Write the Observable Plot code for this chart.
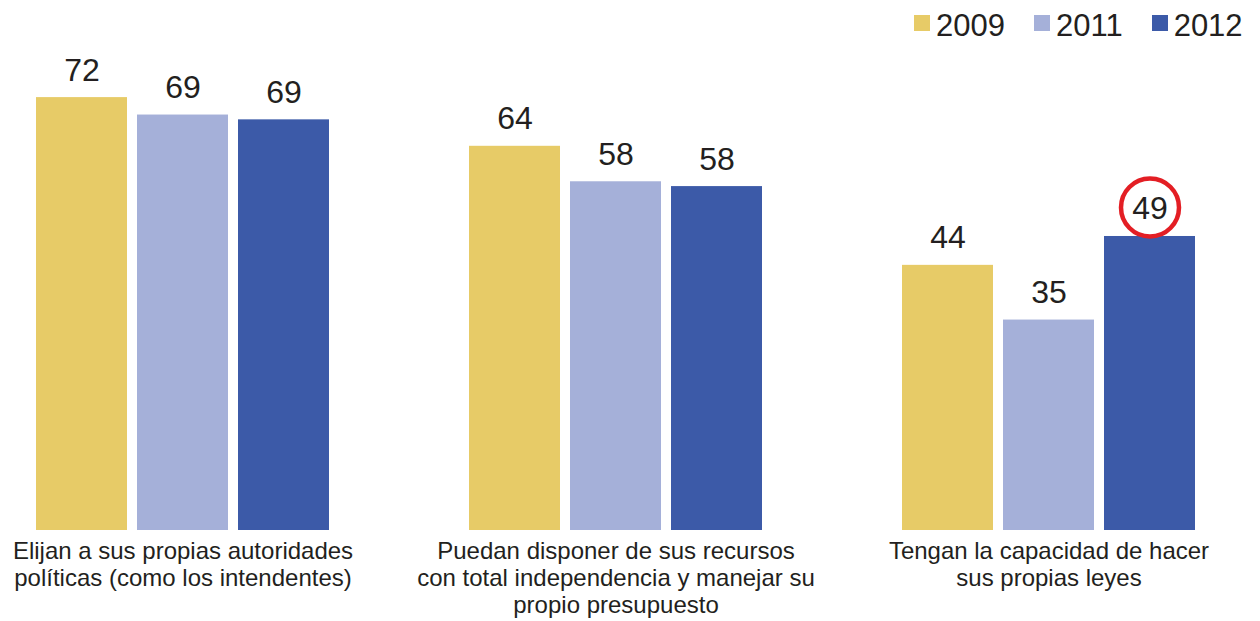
<!DOCTYPE html>
<html>
<head>
<meta charset="utf-8">
<script src="https://cdn.jsdelivr.net/npm/d3@7"></script>
<script src="https://cdn.jsdelivr.net/npm/@observablehq/plot@0.6"></script>
<style>
  body { margin: 0; background: #fff; font-family: "Liberation Sans", Arial, sans-serif; color: #231f20; }
  #wrap { position: relative; width: 1260px; height: 621px; overflow: hidden; }
  #legend { position: absolute; top: 10px; left: 914px; display: flex; gap: 29px; }
  .item { display: flex; align-items: flex-start; font-size: 31px; line-height: 31px; height: 31px; }
  .sw { width: 16px; height: 16px; margin-top: 5px; margin-right: 6px; }
  #chart { position: absolute; top: 0; left: 0; }
</style>
</head>
<body>
<div id="wrap">
  <div id="chart"></div>
  <div id="legend"></div>
</div>
<script>
// ---- data ----
const categories = [
  "Elijan a sus propias autoridades\npolíticas (como los intendentes)",
  "Puedan disponer de sus recursos\ncon total independencia y manejar su\npropio presupuesto",
  "Tengan la capacidad de hacer\nsus propias leyes"
];
const years = ["2009", "2011", "2012"];
const values2009 = [72, 63.9, 44.1];
const values2011 = [69.1, 58.0, 35.0];
const values2012 = [68.3, 57.2, 48.9];
const labels2009 = ["72", "64", "44"];
const labels2011 = ["69", "58", "35"];
const labels2012 = ["69", "58", "49"];
const colors = ["#e7cb67", "#a5b0d9", "#3c5aa8"];
const highlightCategory = 2;
const highlightYear = "2012";

// ---- table built from arrays ----
const seriesValues = [values2009, values2011, values2012];
const seriesLabels = [labels2009, labels2011, labels2012];
const data = [];
categories.forEach((c, i) => {
  years.forEach((y, j) => {
    data.push({category: c, year: y, value: seriesValues[j][i], label: seriesLabels[j][i]});
  });
});
const highlight = data.filter(d => d.category === categories[highlightCategory] && d.year === highlightYear);

const chart = Plot.plot({
  width: 1260,
  height: 621,
  marginTop: 49,
  marginBottom: 91,
  marginLeft: 35,
  marginRight: 64,
  style: {fontFamily: "'Liberation Sans', Arial, sans-serif", color: "#231f20", background: "transparent"},
  fx: {domain: categories, paddingInner: 0.319, paddingOuter: 0, label: null},
  x: {domain: years, paddingInner: 0.1, paddingOuter: 0, axis: null},
  y: {domain: [0, 80], axis: null},
  color: {domain: years, range: colors},
  marks: [
    Plot.barY(data, {fx: "category", x: "year", y: "value", fill: "year"}),
    Plot.text(data, {fx: "category", x: "year", y: "value", text: "label", lineAnchor: "bottom", dy: -17, fontSize: 32, fill: "#231f20"}),
    Plot.dot(highlight, {fx: "category", x: "year", y: "value", r: 29, dy: -29, stroke: "#e31e24", strokeWidth: 4.5, fill: "none"}),
    Plot.axisFx({anchor: "bottom", tickSize: 0, tickPadding: 10, label: null, fontSize: 24, lineHeight: 1.11, fill: "#231f20"})
  ]
});
document.getElementById("chart").appendChild(chart);

// ---- legend ----
const legend = document.getElementById("legend");
years.forEach((y, j) => {
  const item = document.createElement("div");
  item.className = "item";
  const sw = document.createElement("div");
  sw.className = "sw";
  sw.style.background = colors[j];
  const t = document.createElement("span");
  t.textContent = y;
  item.appendChild(sw);
  item.appendChild(t);
  legend.appendChild(item);
});
</script>
</body>
</html>
